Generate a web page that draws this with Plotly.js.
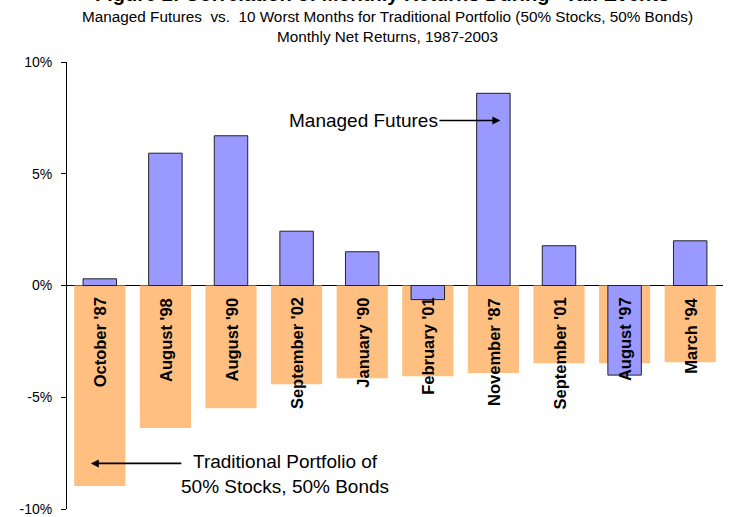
<!DOCTYPE html>
<html>
<head>
<meta charset="utf-8">
<script src="https://cdn.plot.ly/plotly-3.0.1.min.js"></script>
<style>
html,body{margin:0;padding:0;background:#fff;}
#chart{width:732px;height:517px;}
</style>
</head>
<body>
<div id="chart"></div>
<script>
// Data (monthly net returns, %)
var categories = ["October '87", "August '98", "August '90", "September '02", "January '90",
                  "February '01", "November '87", "September '01", "August '97", "March '94"];
var traditionalPortfolio = [-8.97, -6.38, -5.49, -4.42, -4.15, -4.06, -3.92, -3.48, -3.48, -3.43];
var managedFutures = [0.30, 5.92, 6.70, 2.43, 1.51, -0.63, 8.60, 1.78, -4.01, 2.00];
var yTickValues = [-10, -5, 0, 5, 10];
var yTickLabels = ["-10%", "-5%", "0%", "5%", "10%"];

var FONT = "'Liberation Sans', Arial, Helvetica, sans-serif";

var traces = [
  {
    type: 'bar', name: 'Traditional Portfolio (50% Stocks, 50% Bonds)',
    x: categories, y: traditionalPortfolio,
    width: 0.78,
    marker: {color: '#FFBF80', line: {width: 0}},
    hoverinfo: 'x+y'
  },
  {
    type: 'bar', name: 'Managed Futures',
    x: categories, y: managedFutures,
    width: 0.51,
    marker: {color: '#9999FF', line: {color: '#222222', width: 1}},
    hoverinfo: 'x+y'
  }
];

var annotations = [];
// category labels, rotated, hanging just below the zero line
categories.forEach(function (c) {
  annotations.push({
    x: c, y: 0, xref: 'x', yref: 'y',
    text: c, showarrow: false, textangle: -90,
    xanchor: 'center', yanchor: 'top', yshift: -10,
    font: {family: FONT, size: 16.5, color: '#000', weight: 'bold'}
  });
});
// main title (partly above the top edge, as in the reference)
annotations.push({
  xref: 'paper', yref: 'paper', x: 0.488, y: 1,
  xanchor: 'center', yanchor: 'bottom', yshift: 55, showarrow: false,
  text: '<b>Figure 2: Correlation of Monthly Returns During \u201CTail Events\u201D</b>',
  font: {family: FONT, size: 20, color: '#000'}
});
// subtitle
annotations.push({
  xref: 'paper', yref: 'paper', x: 0.489, y: 1,
  xanchor: 'center', yanchor: 'middle', yshift: 36, showarrow: false,
  text: 'Managed Futures  vs.  10 Worst Months for Traditional Portfolio (50% Stocks, 50% Bonds)<br>Monthly Net Returns, 1987-2003',
  font: {family: FONT, size: 15.3, color: '#000'}
});
// Managed Futures pointer
annotations.push({
  x: categories[6], y: 7.38, xref: 'x', yref: 'y',
  xshift: 7,
  text: 'Managed Futures', showarrow: true,
  ax: -137, ay: 0, arrowhead: 2, arrowsize: 1, arrowwidth: 1.6, arrowcolor: '#000',
  font: {family: FONT, size: 19, color: '#000'}
});
// Traditional Portfolio pointer (arrow)
annotations.push({
  x: categories[0], y: -7.96, xref: 'x', yref: 'y',
  xshift: -9,
  text: '', showarrow: true,
  ax: 92, ay: 0, arrowhead: 2, arrowsize: 1, arrowwidth: 1.6, arrowcolor: '#000',
  font: {family: FONT, size: 19, color: '#000'}
});
// Traditional Portfolio text
annotations.push({
  x: categories[0], y: -7.96, xref: 'x', yref: 'y',
  xshift: 185, yshift: -11,
  text: 'Traditional Portfolio of<br>50% Stocks, 50% Bonds', showarrow: false,
  xanchor: 'center', yanchor: 'middle',
  font: {family: FONT, size: 19, color: '#000'}
});

var layout = {
  width: 732, height: 517,
  margin: {l: 67, r: 9, t: 62, b: 8, pad: 0},
  paper_bgcolor: '#fff', plot_bgcolor: '#fff',
  barmode: 'overlay',
  showlegend: false,
  xaxis: {
    type: 'category', range: [-0.5, 9.5],
    showticklabels: false, ticks: '', showgrid: false, showline: false, zeroline: false
  },
  yaxis: {
    range: [-10, 10],
    tickvals: yTickValues, ticktext: yTickLabels,
    ticks: 'outside', ticklen: 5, tickcolor: '#000', tickwidth: 1,
    ticklabelstandoff: 6,
    showline: true, linecolor: '#000', linewidth: 1,
    showgrid: false,
    zeroline: true, zerolinecolor: '#000', zerolinewidth: 1,
    tickfont: {family: FONT, size: 14, color: '#000'}
  },
  annotations: annotations
};

Plotly.newPlot('chart', traces, layout, {displayModeBar: false, staticPlot: true});
</script>
</body>
</html>
